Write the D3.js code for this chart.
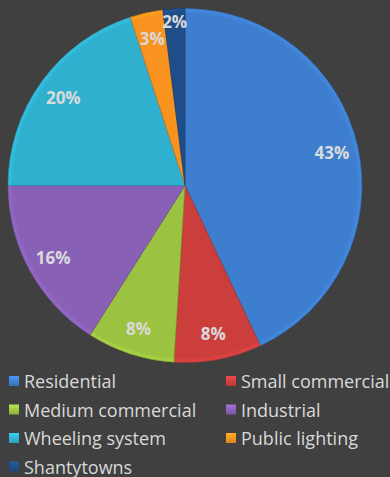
<!DOCTYPE html>
<html>
<head>
<meta charset="utf-8">
<script src="https://cdn.jsdelivr.net/npm/d3@7"></script>
<style>
  html, body { margin: 0; padding: 0; background: #404040; }
  svg { display: block; }
</style>
</head>
<body>
<svg id="chart" width="390" height="477"></svg>
<script>
// Electricity consumption share by customer class (%)
const categories = ["Residential", "Small commercial", "Medium commercial", "Industrial",
                    "Wheeling system", "Public lighting", "Shantytowns"];
const shares = [43, 8, 8, 16, 20, 3, 2];
const colors = ["#3D7ECE", "#CB3E3C", "#9BC240", "#8860B6", "#2FB0CE", "#F7931E", "#1E4D87"];

const W = 390, H = 477;
const cx = 185, cy = 185.5, R = 177;

const svg = d3.select("#chart");
const defs = svg.append("defs");

const data = categories.map((c, i) => ({ name: c, value: shares[i], color: colors[i] }));

// gradients for a slight bevel look on slices and legend keys
data.forEach((d, i) => {
  const g = defs.append("radialGradient")
    .attr("id", "g" + i)
    .attr("gradientUnits", "userSpaceOnUse")
    .attr("cx", 0).attr("cy", 0).attr("r", R);
  g.append("stop").attr("offset", "0%").attr("stop-color", d.color);
  g.append("stop").attr("offset", "97%").attr("stop-color", d.color);
  g.append("stop").attr("offset", "100%").attr("stop-color", d3.color(d.color).brighter(0.3));

  const k = defs.append("linearGradient")
    .attr("id", "k" + i).attr("x1", 0).attr("y1", 0).attr("x2", 0).attr("y2", 1);
  k.append("stop").attr("offset", "0%").attr("stop-color", d3.color(d.color).brighter(0.5));
  k.append("stop").attr("offset", "100%").attr("stop-color", d3.color(d.color).darker(0.3));
});

const pie = d3.pie().value(d => d.value).sort(null);
const arcs = pie(data);
const arc = d3.arc().innerRadius(0).outerRadius(R);

const g = svg.append("g").attr("transform", `translate(${cx},${cy})`);

g.selectAll("path.slice")
  .data(arcs)
  .join("path")
  .attr("class", "slice")
  .attr("d", arc)
  .attr("fill", (d, i) => `url(#g${i})`)
  .attr("stroke", d => d3.color(d.data.color).darker(0.6))
  .attr("stroke-width", 0.6)
  .attr("stroke-linejoin", "round");

// percentage labels
const labelArc = d3.arc().innerRadius(R * 0.85).outerRadius(R * 0.85);
const smallArc = d3.arc().innerRadius(R * 0.93).outerRadius(R * 0.93);

g.selectAll("text.pct")
  .data(arcs)
  .join("text")
  .attr("class", "pct")
  .attr("transform", d => `translate(${(d.data.value < 3 ? smallArc : labelArc).centroid(d)})`)
  .attr("text-anchor", "middle")
  .attr("dominant-baseline", "central")
  .attr("font-family", "'Open Sans', sans-serif")
  .attr("font-weight", "bold")
  .attr("font-size", 17)
  .attr("fill", "#DADADA")
  .text(d => d.data.value + "%");

// legend, two columns
const legend = svg.append("g");
const colX = [9, 226], rowY0 = 381, rowH = 28.5;

const items = legend.selectAll("g.item")
  .data(data)
  .join("g")
  .attr("class", "item")
  .attr("transform", (d, i) => `translate(${colX[i % 2]},${rowY0 + Math.floor(i / 2) * rowH})`);

items.append("rect")
  .attr("x", 0).attr("y", -5)
  .attr("width", 10).attr("height", 10)
  .attr("fill", (d, i) => `url(#k${i})`);

items.append("text")
  .attr("x", 15).attr("y", 0)
  .attr("dominant-baseline", "central")
  .attr("font-family", "'Open Sans', sans-serif")
  .attr("font-size", 18)
  .attr("fill", "#D9D9D9")
  .text(d => d.name);
</script>
</body>
</html>
